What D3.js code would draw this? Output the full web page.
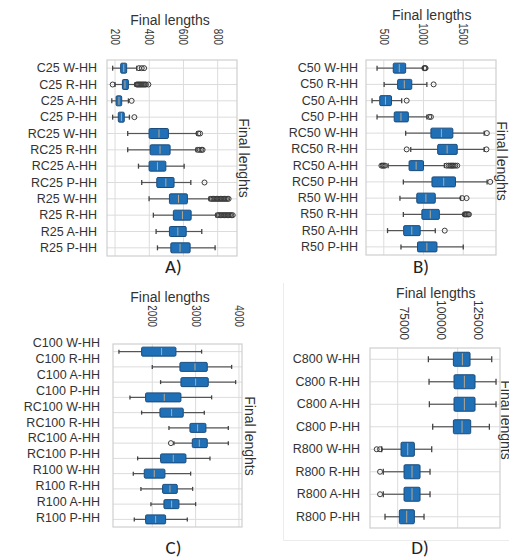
<!DOCTYPE html>
<html><head><meta charset="utf-8">
<script src="https://cdn.jsdelivr.net/npm/d3@7"></script>
<style>
html,body{margin:0;padding:0;background:#fff;}
svg{display:block;}
</style></head>
<body>
<svg id="chart" width="509" height="560"></svg>
<script>
// ---------------- DATA ----------------
// Panel A
const catsA = ["C25 W-HH","C25 R-HH","C25 A-HH","C25 P-HH","RC25 W-HH","RC25 R-HH","RC25 A-HH","RC25 P-HH","R25 W-HH","R25 R-HH","R25 A-HH","R25 P-HH"];
const loA  = [186, 200, 181, 186, 274, 274, 337, 356, 399, 424, 440, 448];
const q1A  = [233, 243, 206, 219, 399, 405, 399, 444, 518, 541, 518, 526];
const medA = [251, 258, 223, 237, 457, 463, 448, 497, 571, 594, 567, 580];
const q3A  = [268, 278, 239, 254, 512, 522, 497, 545, 623, 645, 616, 639];
const hiA  = [327, 317, 278, 284, 678, 674, 604, 643, 750, 790, 707, 785];
const outA = [[340,356,370],[186,327,333,339,345,351,357,363,369,375,381,395],[297],[313],[687,697],[684,695,705,712],[],[723],
  [760,768,776,784,792,800,808,816,824,832,840,848,856,864],[800,808,816,824,832,840,848,856,864,872,880,888],[],[]];
const ticksA = [200,400,600,800];

// Panel B
const catsB = ["C50 W-HH","C50 R-HH","C50 A-HH","C50 P-HH","RC50 W-HH","RC50 R-HH","RC50 A-HH","RC50 P-HH","R50 W-HH","R50 R-HH","R50 A-HH","R50 P-HH"];
const loB  = [415, 504, 352, 415, 775, 839, 555, 746, 703, 746, 547, 716];
const q1B  = [619, 674, 449, 631, 1093, 1178, 818, 1106, 915, 979, 750, 924];
const medB = [695, 758, 521, 716, 1225, 1297, 907, 1254, 1030, 1085, 852, 1042];
const q3B  = [775, 852, 597, 809, 1369, 1424, 1000, 1402, 1148, 1199, 958, 1169];
const hiB  = [995, 1042, 725, 1042, 1763, 1763, 1263, 1800, 1466, 1508, 1148, 1500];
const outB = [[1010,1018,1026],[1127],[788],[1072,1093],[1797],[788,1792],[470,485,500,515,1290,1315,1335,1350,1365,1380,1400,1424],[1839],[1487,1542],[1517,1530,1545,1560,1572],[1267],[]];
const ticksB = [500,1000,1500];

// Panel C
const catsC = ["C100 W-HH","C100 R-HH","C100 A-HH","C100 P-HH","RC100 W-HH","RC100 R-HH","RC100 A-HH","RC100 P-HH","R100 W-HH","R100 R-HH","R100 A-HH","R100 P-HH"];
const loC  = [1231, 2000, 2192, 1485, 1754, 2385, 2500, 1662, 1562, 1738, 1969, 1585];
const q1C  = [1754, 2638, 2661, 1846, 2177, 2869, 2923, 2192, 1815, 2238, 2269, 1846];
const medC = [2215, 2985, 3000, 2277, 2446, 3046, 3085, 2485, 2046, 2408, 2446, 2077];
const q3C  = [2546, 3269, 3292, 2661, 2715, 3238, 3269, 2777, 2292, 2577, 2615, 2308];
const hiC  = [3138, 3831, 3923, 3369, 3200, 3754, 3754, 3331, 2885, 2931, 3000, 2808];
const outC = [[],[],[],[],[],[],[2430],[],[],[],[],[]];
const ticksC = [2000,3000,4000];

// Panel D
const catsD = ["C800 W-HH","C800 R-HH","C800 A-HH","C800 P-HH","R800 W-HH","R800 R-HH","R800 A-HH","R800 P-HH"];
const loD  = [87780, 88060, 88200, 89580, 68330, 69000, 69000, 69720];
const q1D  = [98200, 98470, 98470, 98200, 76390, 77640, 77640, 75690];
const medD = [101950, 102780, 102780, 101810, 79170, 80970, 80970, 78750];
const q3D  = [105140, 107220, 107220, 105420, 81950, 84310, 84310, 81950];
const hiD  = [114170, 115970, 115970, 113200, 89170, 88470, 88470, 85970];
const outD = [[],[],[],[],[66250,67640],[67640],[67640],[]];
const gridD  = [75000,100000];
const ticksD = [75000,100000,125000];

const titleText = "Final lengths";
const sideText = "Final lenghts";

// ---------------- DRAW ----------------
const svg = d3.select("#chart");
const FONT = "'Liberation Sans', Arial, sans-serif";

// faint frame of panel D screenshot
svg.append("path").attr("d","M283.5,283 V540.5 H509").attr("fill","none").attr("stroke","#ececec");

function panel(cfg){
  const g = svg.append("g");
  const x = d3.scaleLinear().domain(cfg.xDomain).range([cfg.x0, cfg.x1]);
  const y = d3.scaleBand().domain(cfg.cats).range([cfg.y0, cfg.y1]);
  const yl = d3.scaleBand().domain(cfg.cats).range(cfg.labelRange || [cfg.y0, cfg.y1]);
  const cy = c => y(c) + y.bandwidth()/2;

  g.append("rect").attr("x",cfg.x0).attr("y",cfg.y0).attr("width",cfg.x1-cfg.x0).attr("height",cfg.y1-cfg.y0)
    .attr("fill","#fff");
  g.selectAll(".vg").data(cfg.grid).join("line")
    .attr("x1",d=>x(d)).attr("x2",d=>x(d)).attr("y1",cfg.y0).attr("y2",cfg.y1)
    .attr("stroke","#dcdcdc").attr("stroke-width",1);
  g.selectAll(".hg").data(cfg.cats).join("line")
    .attr("x1",cfg.x0).attr("x2",cfg.x1).attr("y1",d=>cy(d)).attr("y2",d=>cy(d))
    .attr("stroke","#dcdcdc").attr("stroke-width",1);
  g.append("rect").attr("x",cfg.x0).attr("y",cfg.y0).attr("width",cfg.x1-cfg.x0).attr("height",cfg.y1-cfg.y0)
    .attr("fill","none").attr("stroke","#cfcfcf").attr("stroke-width",1.2);

  const tscale = cfg.tickScale || x;
  const ax = g.append("g").attr("transform",`translate(0,${cfg.y0 - cfg.tickGap})`)
    .call(d3.axisTop(tscale).tickValues(cfg.ticks).tickSize(0).tickFormat(d3.format("d")));
  ax.select(".domain").remove();
  ax.selectAll("text")
    .attr("x",0).attr("y",0).attr("dy","0.35em")
    .attr("text-anchor","end")
    .attr("transform",`rotate(90) scale(${cfg.tickSx},1)`)
    .attr("font-family",FONT).attr("font-size",cfg.tickFs).attr("fill","#333");

  const ay = g.append("g").attr("transform",`translate(${cfg.labelRight},0)`)
    .call(d3.axisLeft(yl).tickSize(0).tickPadding(0));
  ay.select(".domain").remove();
  ay.selectAll("text").attr("font-family",FONT).attr("font-size",12.5).attr("fill","#333");

  const rows = cfg.cats.map((c,i)=>({c, lo:cfg.lo[i], q1:cfg.q1[i], med:cfg.med[i], q3:cfg.q3[i], hi:cfg.hi[i], out:cfg.out[i]}));
  const bh = cfg.boxH, ch = cfg.capH;
  const rg = g.selectAll(".row").data(rows).join("g");
  rg.append("line").attr("x1",d=>x(d.lo)).attr("x2",d=>x(d.q1)).attr("y1",d=>cy(d.c)).attr("y2",d=>cy(d.c))
    .attr("stroke","#555").attr("stroke-width",1.2);
  rg.append("line").attr("x1",d=>x(d.q3)).attr("x2",d=>x(d.hi)).attr("y1",d=>cy(d.c)).attr("y2",d=>cy(d.c))
    .attr("stroke","#555").attr("stroke-width",1.2);
  rg.append("line").attr("x1",d=>x(d.lo)).attr("x2",d=>x(d.lo)).attr("y1",d=>cy(d.c)-ch/2).attr("y2",d=>cy(d.c)+ch/2)
    .attr("stroke","#444").attr("stroke-width",1.3);
  rg.append("line").attr("x1",d=>x(d.hi)).attr("x2",d=>x(d.hi)).attr("y1",d=>cy(d.c)-ch/2).attr("y2",d=>cy(d.c)+ch/2)
    .attr("stroke","#444").attr("stroke-width",1.3);
  rg.append("rect").attr("x",d=>x(d.q1)).attr("width",d=>x(d.q3)-x(d.q1))
    .attr("y",d=>cy(d.c)-bh/2).attr("height",bh).attr("rx",1.2)
    .attr("fill","#1f70b6").attr("stroke","#1a4c7d").attr("stroke-width",1);
  rg.append("line").attr("x1",d=>x(d.med)).attr("x2",d=>x(d.med)).attr("y1",d=>cy(d.c)-bh/2+1).attr("y2",d=>cy(d.c)+bh/2-1)
    .attr("stroke","#b9a88e").attr("stroke-width",1);
  rg.each(function(d){
    d3.select(this).selectAll("circle").data(d.out).join("circle")
      .attr("cx",v=>x(v)).attr("cy",cy(d.c)).attr("r",cfg.r)
      .attr("fill","none").attr("stroke","#3a3a3a").attr("stroke-width",1);
  });

  g.append("text").attr("x",cfg.title[0]).attr("y",cfg.title[1]).attr("text-anchor","middle")
    .attr("font-family",FONT).attr("font-size",14).attr("fill","#333").text(titleText);
  g.append("text").attr("transform",`translate(${cfg.side[0]},${cfg.side[1]}) rotate(90)`)
    .attr("text-anchor","middle").attr("dy","0.35em")
    .attr("font-family",FONT).attr("font-size",14).attr("fill","#333").text(sideText);
  g.append("text").attr("x",cfg.letter[0]).attr("y",cfg.letter[1]).attr("text-anchor","middle")
    .attr("font-family","Carlito, Lato, 'Open Sans', sans-serif").attr("font-size",19).attr("fill","#222").text(cfg.letterText);
}

panel({cats:catsA, lo:loA, q1:q1A, med:medA, q3:q3A, hi:hiA, out:outA,
  xDomain:[153,913], x0:107, x1:237, y0:60, y1:256, grid:ticksA, ticks:ticksA,
  tickGap:15, tickSx:0.75, tickFs:13, labelRight:97, boxH:10, capH:5, r:2.5,
  title:[170,25], side:[244,158], letter:[173.5,273], letterText:"A)"});

panel({cats:catsB, lo:loB, q1:q1B, med:medB, q3:q3B, hi:hiB, out:outB,
  xDomain:[276,1912], x0:366, x1:496, y0:60, y1:255, grid:ticksB, ticks:ticksB,
  tickGap:15, tickSx:0.75, tickFs:13, labelRight:358, boxH:10, capH:5, r:2.5,
  title:[431.7,20], side:[502,161], letter:[421,273], letterText:"B)"});

panel({cats:catsC, lo:loC, q1:q1C, med:medC, q3:q3C, hi:hiC, out:outC,
  xDomain:[1094,4070], x0:113, x1:242, y0:344, y1:527, grid:ticksC, ticks:ticksC,
  tickGap:17, tickSx:0.75, tickFs:13, labelRight:100, labelRange:[334.7,526.3], boxH:9, capH:4, r:2.5,
  title:[170,302], side:[250,436], letter:[173.5,554], letterText:"C)"});

panel({cats:catsD, lo:loD, q1:q1D, med:medD, q3:q3D, hi:hiD, out:outD,
  xDomain:[63460,117625], x0:370, x1:500, y0:348, y1:528, grid:gridD, ticks:ticksD,
  tickScale:d3.scaleLinear().domain([75000,125000]).range([403.5,478]),
  tickGap:8, tickSx:1, tickFs:12, labelRight:360, boxH:14, capH:6, r:2.5,
  title:[435.8,298], side:[506,420], letter:[420,554], letterText:"D)"});

const clip = svg.append("defs");
clip.append("clipPath").attr("id","cutB").append("rect").attr("x",250).attr("y",100).attr("width",8).attr("height",120);
clip.append("clipPath").attr("id","cutD").append("rect").attr("x",250.5).attr("y",380).attr("width",8).attr("height",120);
svg.append("text").attr("clip-path","url(#cutB)").attr("transform","translate(247,158) rotate(90)")
  .attr("text-anchor","middle").attr("dy","0.35em").attr("font-family",FONT).attr("font-size",14).attr("fill","#aaa").text(sideText);
svg.append("text").attr("clip-path","url(#cutD)").attr("transform","translate(248,436) rotate(90)")
  .attr("text-anchor","middle").attr("dy","0.35em").attr("font-family",FONT).attr("font-size",14).attr("fill","#777").text(sideText);
</script>
</body></html>
